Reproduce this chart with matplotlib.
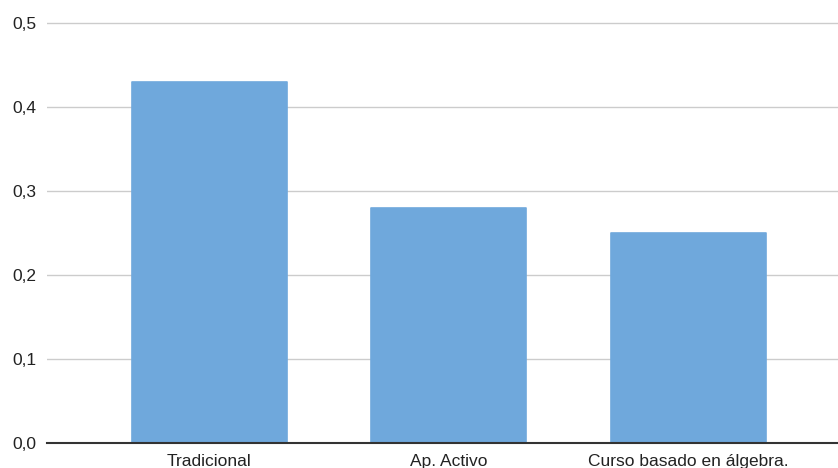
import matplotlib
matplotlib.use("Agg")
import matplotlib.pyplot as plt
from matplotlib.ticker import FuncFormatter

categories = ["Tradicional", "Ap. Activo", "Curso basado en álgebra."]
values = [0.43, 0.28, 0.25]
yticks = [0.0, 0.1, 0.2, 0.3, 0.4, 0.5]

W, H, DPI = 838, 468, 100
fig = plt.figure(figsize=(W / DPI, H / DPI), dpi=DPI)

# axes placement in pixels: left edge, zero line, and a small headroom above 0.5
left_px, zero_px, px_per_unit = 47, 443, 840
ymax = 0.52
ax_h = ymax * px_per_unit
ax = fig.add_axes([left_px / W, (H - zero_px) / H, 1 - left_px / W, ax_h / H])

x = list(range(len(categories)))
ax.bar(x, values, width=0.647, color="#6fa8dc", edgecolor="#6fa8dc",
       linewidth=1.2, joinstyle="round", zorder=3)

ax.set_xlim(-0.678, 2.624)
ax.set_ylim(0, ymax)
ax.set_yticks(yticks)
ax.yaxis.set_major_formatter(FuncFormatter(lambda v, _: f"{v:.1f}".replace(".", ",")))
ax.set_xticks(x)
ax.set_xticklabels(categories)

font = "Liberation Sans"
for lbl in ax.get_xticklabels() + ax.get_yticklabels():
    lbl.set_fontfamily(font)
    lbl.set_fontsize(12.5)
    lbl.set_color("#222222")

ax.tick_params(axis="both", length=0)
ax.tick_params(axis="y", pad=7.5)
ax.tick_params(axis="x", pad=8)

ax.grid(axis="y", color="#cccccc", linewidth=1.0, zorder=0)
for s in ["top", "right", "left"]:
    ax.spines[s].set_visible(False)
ax.spines["bottom"].set_color("#333333")
ax.spines["bottom"].set_linewidth(1.5)
ax.spines["bottom"].set_zorder(4)

fig.savefig("out.png", dpi=DPI)
